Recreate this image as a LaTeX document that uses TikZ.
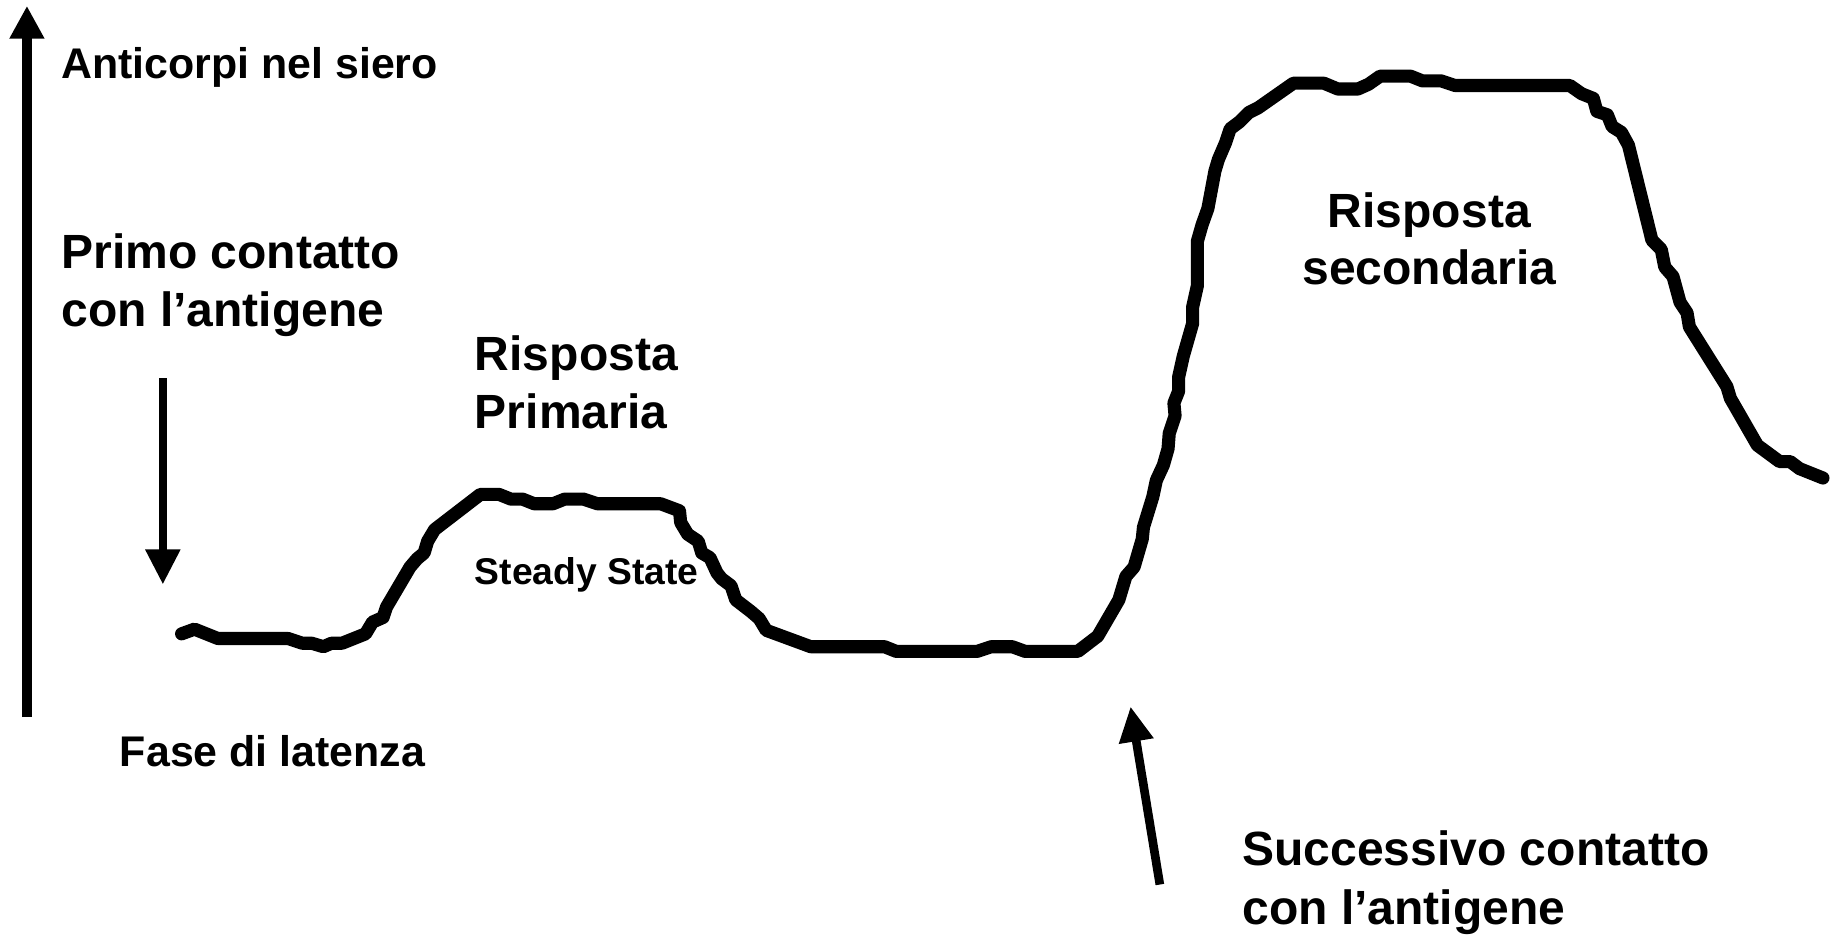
\documentclass[tikz,border=0pt]{standalone}
\usepackage{fontspec}
\setmainfont{Liberation Sans}
\usetikzlibrary{arrows.meta}
\begin{document}
\begin{tikzpicture}[x=0.5pt,y=0.5pt,
  curve/.style={line width=5.6pt,line cap=round,line join=round},
  axisarrow/.style={line width=4.3pt,-{Triangle[width=14pt,length=14pt]}},
  thinarrow/.style={line width=3.7pt,-{Triangle[width=14pt,length=15pt]}},
  medlab/.style={font=\fontsize{18.3pt}{22pt}\selectfont\bfseries,inner sep=0pt},
  biglab/.style={font=\fontsize{20.5pt}{25pt}\selectfont\bfseries,inner sep=0pt},
  smalllab/.style={font=\fontsize{15.9pt}{19pt}\selectfont\bfseries,inner sep=0pt}]
\useasboundingbox[fill=white] (0,0) rectangle (1568,-799);
% axis
\coordinate (axb) at (23,-612);
\coordinate (axt) at (23,-5);
\draw[axisarrow] (axb) -- (axt);
% labels
\node[medlab,anchor=base west] (anti) at (52,-67) {Anticorpi nel siero};
\node[biglab,anchor=base west] (prim1) at (52,-229) {Primo contatto};
\node[biglab,anchor=base west] (prim2) at (52,-279) {con l’antigene};
\node[biglab,anchor=base west] (rp1) at (405,-316) {Risposta};
\node[biglab,anchor=base west] (rp2) at (405,-366) {Primaria};
\node[smalllab,anchor=base west] (steady) at (405,-499) {Steady State};
\node[medlab,anchor=base west] (fase) at (102,-654) {Fase di latenza};
\node[biglab,anchor=base] (rs1) at (1220,-194) {Risposta};
\node[biglab,anchor=base] (rs2) at (1220,-243) {secondaria};
\node[biglab,anchor=base west] (suc1) at (1060,-739) {Successivo contatto};
\node[biglab,anchor=base west] (suc2) at (1060,-789) {con l’antigene};
% arrows
\coordinate (d1) at (139,-323);
\coordinate (d2) at (139,-499);
\draw[thinarrow] (d1) -- (d2);
\coordinate (u1) at (990,-755);
\coordinate (u2) at (965,-603);
\draw[thinarrow] (u1) -- (u2);
% curve
\draw[curve] plot coordinates {(155,-541) (166,-537) (186,-545) (246,-545) (258,-549) (266,-549) (276,-552) (283,-549) (292,-549) (312,-541) (318,-531) (327,-527) (330,-518) (350,-484) (356,-477) (362,-472) (365,-462) (371,-452) (410,-422) (426,-422) (436,-426) (446,-426) (456,-430) (472,-430) (482,-426) (498,-426) (510,-430) (564,-430) (580,-436) (581,-446) (587,-456) (596,-462) (599,-472) (606,-476) (612,-489) (616,-494) (624,-500) (628,-512) (641,-522) (648,-528) (654,-538) (692,-552) (755,-552) (765,-556) (834,-556) (846,-552) (864,-552) (875,-556) (920,-556) (937,-543) (955,-512) (961,-492) (968,-484) (975,-460) (976,-450) (984,-424) (987,-410) (993,-397) (997,-383) (998,-370) (1003,-355) (1002,-344) (1006,-334) (1006,-322) (1010,-304) (1018,-276) (1018,-262) (1022,-244) (1022,-206) (1026,-192) (1031,-178) (1037,-146) (1040,-136) (1046,-122) (1050,-110) (1058,-104) (1066,-96) (1074,-92) (1104,-71) (1130,-71) (1142,-76) (1159,-76) (1168,-72) (1178,-65) (1204,-65) (1214,-69) (1230,-69) (1242,-73) (1340,-73) (1350,-80) (1360,-84) (1363,-95) (1372,-98) (1376,-108) (1384,-113) (1390,-124) (1410,-205) (1418,-213) (1421,-228) (1428,-236) (1434,-258) (1440,-267) (1442,-279) (1474,-330) (1477,-340) (1500,-380) (1519,-394) (1528,-394) (1536,-400) (1556,-408)};
\end{tikzpicture}
\end{document}
